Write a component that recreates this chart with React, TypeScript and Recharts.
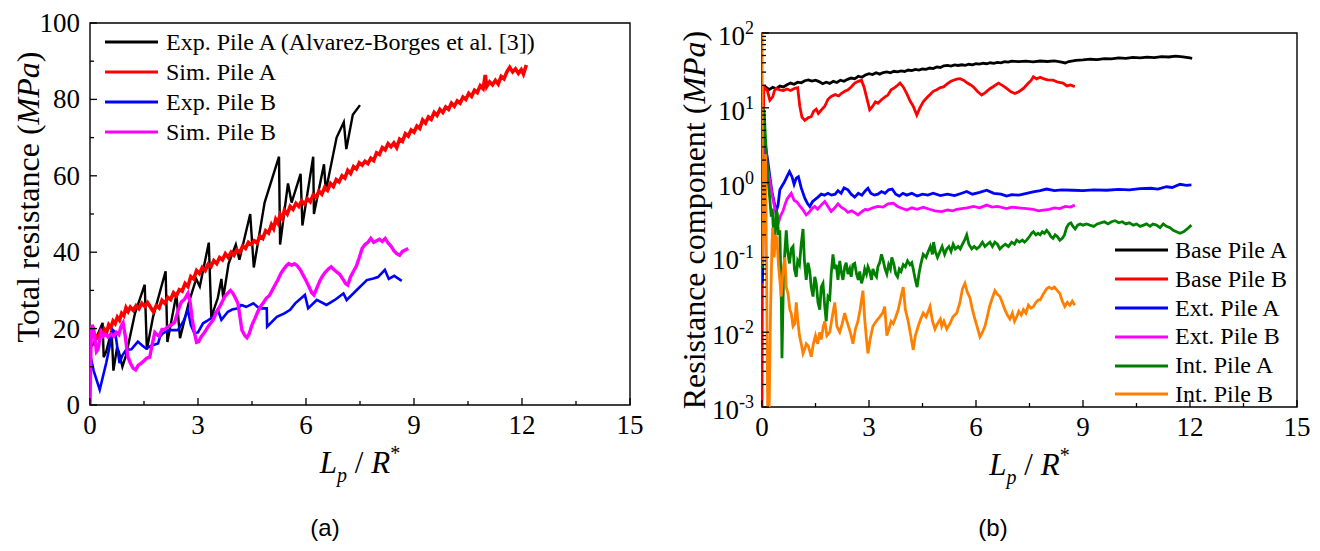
import React from 'react';
import { LineChart, Line, XAxis, YAxis, ReferenceArea, Legend } from 'recharts';

const SERIF = '"Liberation Serif", "Times New Roman", serif';
const SANS = '"Liberation Sans", Arial, sans-serif';

// ---- panel (a): total resistance ----
const A_X_TICKS = [0, 1.5, 3, 4.5, 6, 7.5, 9, 10.5, 12, 13.5, 15];
const A_X_LABELS = [0, 3, 6, 9, 12, 15];
const A_Y_TICKS = [0, 10, 20, 30, 40, 50, 60, 70, 80, 90, 100];
const A_Y_LABELS = [0, 20, 40, 60, 80, 100];
const A_NAMES = ['Exp. Pile A (Alvarez-Borges et al. [3])', 'Sim. Pile A', 'Exp. Pile B', 'Sim. Pile B'];
const A_COLORS = ['#000000', '#ff0000', '#0000ff', '#ff00ff'];

const expPileA: [number, number][] = [
  [0, 15], [0.1, 16], [0.35, 21.5], [0.38, 12.5], [0.45, 14], [0.6, 19.5], [0.65, 9], [0.75, 15], [0.8, 14],
  [0.9, 10], [1.0, 13], [1.25, 24], [1.52, 31.5], [1.58, 14.5], [1.75, 23], [2.1, 35], [2.15, 16.5],
  [2.4, 29], [2.5, 17.5], [2.75, 27], [2.85, 30], [2.95, 33], [3.05, 31], [3.3, 42.5], [3.37, 23],
  [3.55, 28], [3.65, 33], [3.7, 28], [3.85, 37], [4.05, 42], [4.15, 38], [4.45, 50], [4.55, 36],
  [4.85, 53], [5.25, 65], [5.28, 42], [5.5, 58], [5.6, 53], [5.85, 60.5], [5.9, 47], [6.2, 65],
  [6.22, 50], [6.5, 63], [6.55, 56], [6.85, 70], [7.05, 74], [7.12, 67], [7.3, 76], [7.5, 78.5],
];

const simPileA: [number, number][] = [
  [0, 14], [0.04, 20.5], [0.1, 19], [0.16, 18], [0.22, 17.5], [0.28, 19], [0.34, 18.2], [0.4, 19.8], [0.46, 19],
  [0.52, 21], [0.58, 20.2], [0.64, 22], [0.7, 21.3], [0.76, 23], [0.82, 22.2], [0.88, 24], [0.94, 23.4],
  [1.0, 25.5], [1.06, 24.5], [1.12, 25.6], [1.2, 24.8], [1.28, 26], [1.36, 25.2], [1.44, 26.6], [1.52, 25.8],
  [1.6, 26.8], [1.68, 25.6], [1.76, 24.4], [1.84, 26], [1.92, 25.4], [2.0, 27.4], [2.08, 26.6], [2.16, 28.2],
  [2.24, 27.6], [2.32, 29.4], [2.4, 28.6], [2.48, 30.2], [2.56, 29.8], [2.64, 31.8], [2.72, 31], [2.8, 33.6],
  [2.88, 33], [2.96, 35.2], [3.04, 34.4], [3.12, 36], [3.2, 35.2], [3.28, 36.8], [3.36, 36.2], [3.44, 37.8],
  [3.52, 37], [3.6, 38.6], [3.68, 38], [3.76, 39.6], [3.84, 38.6], [3.92, 40], [4.0, 39.2], [4.08, 40.6],
  [4.16, 40], [4.24, 41.6], [4.32, 41], [4.4, 42.6], [4.48, 42], [4.56, 43], [4.64, 42.4], [4.72, 44.2],
  [4.8, 43.6], [4.88, 45.6], [4.96, 45], [5.04, 47.2], [5.1, 46.2], [5.16, 48.6], [5.22, 47.6], [5.28, 49.8],
  [5.34, 48.8], [5.4, 51], [5.48, 50], [5.56, 52], [5.64, 51.2], [5.72, 52.8], [5.8, 52], [5.88, 53.4],
  [5.96, 52.6], [6.04, 54], [6.12, 53.2], [6.2, 55], [6.28, 54.4], [6.36, 56], [6.44, 55.2], [6.52, 57],
  [6.6, 56.2], [6.68, 58], [6.76, 57.2], [6.84, 59], [6.92, 58.4], [7.0, 60], [7.08, 59.4], [7.16, 61.4],
  [7.24, 60.6], [7.32, 62.4], [7.4, 61.8], [7.48, 63.4], [7.56, 62.8], [7.64, 63.8], [7.72, 63.2], [7.8, 64.6],
  [7.88, 64], [7.96, 66], [8.04, 65.6], [8.12, 67.4], [8.2, 66.8], [8.28, 68.4], [8.36, 67.6], [8.44, 68.6],
  [8.52, 67.4], [8.6, 69.6], [8.68, 69], [8.76, 71], [8.84, 70.4], [8.92, 72], [9.0, 71.4], [9.08, 73],
  [9.16, 72.4], [9.24, 74.6], [9.32, 73.8], [9.4, 75.4], [9.48, 74.8], [9.56, 76.6], [9.64, 75.8], [9.72, 77.4],
  [9.8, 76.6], [9.88, 78], [9.96, 77.4], [10.04, 79], [10.12, 78.2], [10.2, 79.6], [10.28, 79], [10.36, 80.6],
  [10.44, 80], [10.52, 81.6], [10.6, 80.8], [10.68, 82.4], [10.76, 81.8], [10.84, 83.6], [10.92, 82.8],
  [10.98, 86.4], [11.02, 83.4], [11.1, 84.6], [11.18, 83.8], [11.26, 85], [11.34, 84], [11.42, 86], [11.5, 85.4],
  [11.58, 87.2], [11.66, 88.4], [11.74, 87.2], [11.82, 88], [11.9, 86.8], [11.98, 87.8], [12.04, 86.6], [12.12, 89],
];

const expPileB: [number, number][] = [
  [0, 13.5], [0.1, 9], [0.27, 4], [0.45, 11], [0.64, 19.6], [0.7, 19], [0.82, 11], [0.9, 13], [1.0, 14.4],
  [1.15, 14.6], [1.33, 16.6], [1.45, 15.6], [1.56, 14.8], [1.7, 15.5], [1.89, 16.1], [1.95, 18], [2.03, 18.8],
  [2.21, 19.6], [2.44, 19.6], [2.6, 22], [2.72, 24.9], [2.8, 21], [2.9, 18.8], [3.0, 19], [3.14, 21.4],
  [3.25, 22], [3.42, 23.1], [3.55, 25], [3.65, 22.3], [3.83, 24.4], [3.95, 25], [4.11, 25.3], [4.2, 26.2],
  [4.34, 25.7], [4.54, 26.6], [4.7, 25.3], [4.91, 25.3], [4.92, 20.5], [5.19, 23.1], [5.4, 24], [5.56, 24.9],
  [5.7, 26.6], [5.97, 28.8], [6.06, 25.3], [6.3, 27.5], [6.57, 26.2], [6.8, 27.5], [7.04, 29.2], [7.13, 27.5],
  [7.41, 30.1], [7.69, 32.7], [7.87, 33.1], [8.0, 33.5], [8.19, 35.4], [8.3, 33], [8.45, 33.8], [8.66, 32.5],
];

const simPileB: [number, number][] = [
  [0, 0], [0.03, 17], [0.06, 21], [0.1, 20], [0.14, 17], [0.18, 14], [0.22, 14.5], [0.27, 17], [0.31, 19],
  [0.36, 18], [0.42, 18.5], [0.5, 17.8], [0.58, 18.6], [0.66, 18], [0.73, 19], [0.8, 18.4], [0.86, 20.5],
  [0.92, 21.5], [0.98, 18], [1.05, 12.7], [1.12, 11], [1.2, 9.6], [1.27, 9.2], [1.34, 10.4], [1.42, 10.9],
  [1.5, 11.6], [1.58, 12.3], [1.66, 12.5], [1.72, 15.5], [1.8, 19], [1.86, 18.4], [1.92, 18], [2.0, 19.8],
  [2.08, 19.8], [2.17, 20.5], [2.26, 21], [2.35, 21.6], [2.44, 24.5], [2.54, 27], [2.62, 27.6], [2.72, 29.2],
  [2.78, 27], [2.84, 22.5], [2.9, 19], [2.96, 16.4], [3.02, 16.6], [3.09, 17.9], [3.18, 19], [3.28, 20.5],
  [3.36, 21.5], [3.42, 22.3], [3.5, 24], [3.58, 25.4], [3.65, 26.6], [3.74, 28.4], [3.82, 29.2], [3.9, 30],
  [3.96, 29.4], [4.04, 28], [4.11, 26.6], [4.16, 23.5], [4.22, 19.6], [4.3, 18.2], [4.36, 17.6], [4.42, 18.6],
  [4.5, 21], [4.58, 22.6], [4.66, 24.4], [4.74, 25.8], [4.82, 26.8], [4.9, 28], [4.98, 28.6], [5.06, 30],
  [5.14, 31.4], [5.22, 32.8], [5.3, 34.4], [5.37, 35.4], [5.45, 36.4], [5.52, 37], [5.6, 36.6], [5.68, 37],
  [5.76, 36.4], [5.84, 35.4], [5.92, 34], [6.0, 32.6], [6.08, 31], [6.16, 29.4], [6.22, 28.8], [6.3, 30.6],
  [6.38, 32.4], [6.46, 33.8], [6.54, 34.8], [6.62, 35.6], [6.7, 36.2], [6.78, 35.4], [6.86, 34.8], [6.94, 34.2],
  [7.02, 33], [7.1, 31.8], [7.16, 31.4], [7.24, 33.6], [7.32, 35], [7.4, 36.4], [7.48, 38.6], [7.56, 41],
  [7.64, 42], [7.72, 42.6], [7.8, 43.6], [7.88, 42.6], [7.96, 43], [8.04, 43.4], [8.12, 42.8], [8.2, 43.6],
  [8.28, 42.4], [8.36, 41.6], [8.44, 40.4], [8.52, 39.6], [8.6, 39.2], [8.68, 40.2], [8.76, 40.6], [8.84, 41],
];

// ---- panel (b): resistance components (log scale) ----
const B_X_TICKS = A_X_TICKS;
const B_X_LABELS = A_X_LABELS;
const B_Y_LABELS = [0.001, 0.01, 0.1, 1, 10, 100];
const B_MINOR_STEPS = [1, 2, 3, 4, 5, 6, 7, 8, 9];
const B_Y_TICKS = B_Y_LABELS.flatMap((d) => (d === 100 ? [d] : B_MINOR_STEPS.map((m) => +(d * m).toPrecision(3))));
const B_NAMES = ['Base Pile A', 'Base Pile B', 'Ext. Pile A', 'Ext. Pile B', 'Int. Pile A', 'Int. Pile B'];
const B_COLORS = ['#000000', '#ff0000', '#0000ff', '#ff00ff', '#008000', '#ff8000'];

const basePileA: [number, number][] = [
  [0.02, 16], [0.1, 19], [0.2, 17.5], [0.3, 18.8], [0.4, 18], [0.5, 19.5], [0.6, 19], [0.7, 20.3], [0.8, 21.4],
  [0.9, 20.6], [1.0, 22], [1.1, 21.6], [1.2, 23], [1.3, 23.6], [1.4, 22.8], [1.5, 23.4], [1.6, 22.4], [1.7, 21],
  [1.8, 22], [1.9, 21.2], [2.0, 22.6], [2.1, 21.8], [2.2, 23.4], [2.3, 22.6], [2.4, 24], [2.5, 25], [2.6, 24.4],
  [2.7, 26.4], [2.8, 25.6], [2.9, 27.4], [3.0, 28.6], [3.1, 27.8], [3.2, 29.4], [3.3, 28.2], [3.4, 29.6],
  [3.5, 30.2], [3.6, 29.4], [3.7, 30.8], [3.8, 30.2], [3.9, 31.2], [4.0, 30.6], [4.1, 32], [4.2, 31.4],
  [4.3, 32.6], [4.4, 32], [4.5, 33], [4.6, 32.6], [4.7, 34], [4.8, 33.4], [4.9, 35.2], [5.0, 34.6], [5.1, 36.4],
  [5.2, 37], [5.3, 36.2], [5.4, 37.4], [5.5, 36.8], [5.6, 37.6], [5.7, 37], [5.8, 38.2], [5.9, 37.6], [6.0, 39],
  [6.1, 38.4], [6.2, 39.4], [6.3, 38.8], [6.4, 40], [6.5, 39.2], [6.6, 40.4], [6.7, 39.8], [6.8, 41.4],
  [6.9, 40.8], [7.0, 42], [7.2, 41.4], [7.4, 42], [7.6, 41.2], [7.8, 42.2], [8.0, 41.6], [8.2, 42.4], [8.4, 40.8],
  [8.5, 39.8], [8.6, 41.6], [8.8, 43], [9.0, 43.6], [9.2, 44.6], [9.4, 44], [9.6, 45.4], [9.8, 45], [10.0, 46.4],
  [10.2, 45.8], [10.4, 47.2], [10.6, 46.4], [10.8, 47.6], [11.0, 47], [11.2, 48.4], [11.4, 47.8], [11.6, 49],
  [11.8, 48], [12.0, 46.4], [12.06, 45.6],
];

const basePileB: [number, number][] = [
  [0, 0.001], [0.01, 0.06], [0.05, 19], [0.1, 18], [0.15, 17], [0.22, 12.6], [0.3, 14], [0.35, 17], [0.4, 18.2],
  [0.5, 17.4], [0.6, 17], [0.7, 17.8], [0.8, 17], [0.92, 18.2], [1.0, 18.6], [1.06, 10.5], [1.12, 7.5], [1.2, 6.8],
  [1.3, 7.4], [1.38, 7.6], [1.45, 9], [1.52, 9.6], [1.58, 8.4], [1.65, 9.2], [1.76, 10.5], [1.85, 13], [1.94, 14.2],
  [2.05, 15], [2.15, 14.4], [2.22, 15.5], [2.32, 16.6], [2.41, 17.4], [2.5, 19], [2.6, 21.4], [2.7, 22.6],
  [2.79, 23.4], [2.86, 19], [2.93, 14], [3.02, 9.4], [3.1, 10.4], [3.18, 12], [3.25, 11.5], [3.35, 12.8],
  [3.45, 14], [3.53, 14.8], [3.62, 17.4], [3.72, 18.6], [3.8, 20], [3.87, 21.4], [3.96, 19], [4.06, 15.5],
  [4.15, 12.4], [4.24, 10.5], [4.34, 8], [4.42, 9.8], [4.52, 12], [4.62, 13.6], [4.72, 15.2], [4.8, 16.6],
  [4.9, 17.4], [5.0, 18.6], [5.09, 19], [5.2, 21], [5.3, 22.6], [5.37, 23.4], [5.46, 24.2], [5.55, 24.5],
  [5.65, 23.4], [5.75, 21.6], [5.85, 20.2], [5.93, 19], [6.05, 16.4], [6.16, 14.8], [6.26, 16], [6.39, 18],
  [6.5, 19.4], [6.63, 21.4], [6.75, 19.8], [6.86, 18.2], [6.98, 16.4], [7.09, 15.5], [7.2, 16.4], [7.33, 18.2],
  [7.45, 21], [7.55, 23.4], [7.61, 26], [7.7, 24.4], [7.8, 25.6], [7.89, 24.5], [8.0, 23.6], [8.16, 23.4],
  [8.3, 22], [8.44, 21.4], [8.55, 19.6], [8.65, 20.2], [8.77, 19.2],
];

const extPileA: [number, number][] = [
  [0, 0.045], [0.02, 0.06], [0.04, 3.5], [0.1, 3], [0.16, 2], [0.22, 1.2], [0.28, 0.75], [0.34, 0.55], [0.4, 0.42],
  [0.45, 0.5], [0.5, 0.8], [0.56, 0.9], [0.62, 1.0], [0.7, 1.2], [0.77, 1.4], [0.84, 1.2], [0.9, 0.95], [0.96, 1.15],
  [1.02, 1.2], [1.1, 0.85], [1.2, 0.62], [1.28, 0.52], [1.34, 0.48], [1.42, 0.56], [1.5, 0.6], [1.57, 0.64],
  [1.66, 0.7], [1.75, 0.68], [1.85, 0.72], [1.95, 0.68], [2.05, 0.7], [2.13, 0.78], [2.22, 0.72], [2.3, 0.85],
  [2.41, 0.8], [2.5, 0.7], [2.6, 0.64], [2.7, 0.72], [2.8, 0.68], [2.9, 0.78], [2.97, 0.84], [3.05, 0.72],
  [3.15, 0.68], [3.25, 0.7], [3.35, 0.76], [3.45, 0.72], [3.55, 0.8], [3.65, 0.82], [3.75, 0.7], [3.85, 0.66],
  [3.95, 0.72], [4.06, 0.68], [4.2, 0.72], [4.35, 0.66], [4.5, 0.7], [4.65, 0.68], [4.8, 0.72], [5.0, 0.67],
  [5.2, 0.7], [5.4, 0.67], [5.6, 0.72], [5.74, 0.76], [5.9, 0.7], [6.1, 0.74], [6.3, 0.79], [6.5, 0.72],
  [6.7, 0.7], [6.86, 0.66], [7.0, 0.69], [7.2, 0.68], [7.42, 0.72], [7.6, 0.75], [7.8, 0.78], [7.98, 0.82],
  [8.2, 0.78], [8.4, 0.8], [8.72, 0.79], [9.0, 0.78], [9.3, 0.8], [9.66, 0.79], [10.0, 0.81], [10.3, 0.8],
  [10.6, 0.83], [10.9, 0.84], [11.1, 0.82], [11.34, 0.88], [11.5, 0.86], [11.72, 0.95], [11.9, 0.92], [12.04, 0.93],
];

const extPileB: [number, number][] = [
  [0.02, 10], [0.06, 5], [0.12, 2], [0.2, 1.2], [0.28, 0.7], [0.36, 0.45], [0.42, 0.32], [0.46, 0.29], [0.52, 0.36],
  [0.59, 0.42], [0.64, 0.5], [0.7, 0.6], [0.76, 0.66], [0.82, 0.72], [0.9, 0.58], [0.98, 0.55], [1.06, 0.49],
  [1.14, 0.44], [1.24, 0.37], [1.32, 0.4], [1.4, 0.45], [1.48, 0.48], [1.56, 0.44], [1.66, 0.5], [1.76, 0.56],
  [1.85, 0.48], [1.94, 0.41], [2.04, 0.46], [2.13, 0.52], [2.22, 0.47], [2.32, 0.44], [2.41, 0.4], [2.52, 0.42],
  [2.62, 0.39], [2.69, 0.37], [2.8, 0.41], [2.9, 0.44], [2.97, 0.43], [3.1, 0.46], [3.25, 0.48], [3.4, 0.47],
  [3.53, 0.52], [3.68, 0.53], [3.8, 0.48], [3.94, 0.45], [4.06, 0.43], [4.2, 0.46], [4.35, 0.44], [4.52, 0.47],
  [4.7, 0.44], [4.85, 0.42], [5.04, 0.41], [5.2, 0.43], [5.35, 0.42], [5.46, 0.44], [5.6, 0.45], [5.75, 0.46],
  [5.93, 0.48], [6.1, 0.46], [6.3, 0.5], [6.45, 0.47], [6.6, 0.48], [6.86, 0.45], [7.0, 0.47], [7.2, 0.46],
  [7.42, 0.45], [7.6, 0.44], [7.75, 0.42], [7.89, 0.43], [8.05, 0.44], [8.2, 0.46], [8.35, 0.45], [8.5, 0.48],
  [8.65, 0.47], [8.77, 0.5],
];

const intPileA: [number, number][] = [
  [0, 0.07], [0.01, 0.09], [0.03, 10], [0.06, 9], [0.1, 3.7], [0.14, 2], [0.17, 1.1], [0.22, 0.6], [0.26, 0.35],
  [0.29, 0.45], [0.31, 0.28], [0.34, 0.2], [0.36, 0.15], [0.38, 0.3], [0.4, 0.43], [0.43, 0.38], [0.46, 0.2],
  [0.5, 0.23], [0.52, 0.08], [0.54, 0.03], [0.56, 0.0045], [0.58, 0.015], [0.6, 0.045], [0.64, 0.12], [0.68, 0.23],
  [0.72, 0.12], [0.77, 0.083], [0.82, 0.13], [0.87, 0.14], [0.91, 0.07], [0.96, 0.055], [1.0, 0.09], [1.05, 0.08],
  [1.1, 0.15], [1.15, 0.24], [1.19, 0.09], [1.24, 0.05], [1.29, 0.085], [1.34, 0.065], [1.38, 0.04], [1.43, 0.03],
  [1.48, 0.055], [1.52, 0.045], [1.57, 0.025], [1.62, 0.02], [1.66, 0.04], [1.71, 0.045], [1.76, 0.022],
  [1.8, 0.014], [1.85, 0.03], [1.9, 0.028], [1.94, 0.06], [1.99, 0.11], [2.04, 0.07], [2.08, 0.08], [2.13, 0.05],
  [2.18, 0.09], [2.22, 0.065], [2.27, 0.05], [2.32, 0.075], [2.36, 0.085], [2.41, 0.06], [2.46, 0.07], [2.5, 0.055],
  [2.55, 0.08], [2.6, 0.083], [2.65, 0.06], [2.7, 0.05], [2.74, 0.065], [2.79, 0.045], [2.84, 0.055], [2.88, 0.07],
  [2.93, 0.06], [2.97, 0.075], [3.02, 0.065], [3.07, 0.05], [3.11, 0.07], [3.16, 0.06], [3.21, 0.055],
  [3.25, 0.075], [3.3, 0.085], [3.35, 0.11], [3.4, 0.09], [3.45, 0.07], [3.5, 0.06], [3.55, 0.08], [3.6, 0.07],
  [3.64, 0.1], [3.7, 0.08], [3.75, 0.06], [3.8, 0.055], [3.85, 0.07], [3.9, 0.065], [3.96, 0.08], [4.02, 0.075],
  [4.08, 0.09], [4.15, 0.08], [4.2, 0.085], [4.24, 0.07], [4.3, 0.05], [4.35, 0.04], [4.4, 0.06], [4.45, 0.08],
  [4.52, 0.11], [4.6, 0.1], [4.66, 0.12], [4.72, 0.14], [4.78, 0.11], [4.81, 0.16], [4.86, 0.12], [4.92, 0.1],
  [4.99, 0.12], [5.05, 0.14], [5.12, 0.11], [5.18, 0.13], [5.24, 0.14], [5.3, 0.12], [5.36, 0.15], [5.42, 0.13],
  [5.5, 0.14], [5.56, 0.13], [5.62, 0.15], [5.68, 0.17], [5.74, 0.2], [5.8, 0.15], [5.88, 0.13], [5.95, 0.14],
  [6.02, 0.13], [6.1, 0.14], [6.18, 0.16], [6.25, 0.14], [6.32, 0.15], [6.39, 0.16], [6.46, 0.14], [6.53, 0.16],
  [6.6, 0.15], [6.67, 0.13], [6.74, 0.14], [6.82, 0.15], [6.91, 0.14], [7.0, 0.16], [7.08, 0.15], [7.14, 0.17],
  [7.22, 0.16], [7.3, 0.17], [7.36, 0.16], [7.42, 0.17], [7.5, 0.19], [7.56, 0.21], [7.61, 0.22], [7.68, 0.2],
  [7.74, 0.21], [7.8, 0.2], [7.86, 0.22], [7.92, 0.21], [7.98, 0.23], [8.05, 0.21], [8.1, 0.19], [8.16, 0.18],
  [8.22, 0.2], [8.28, 0.19], [8.35, 0.17], [8.42, 0.18], [8.48, 0.2], [8.54, 0.25], [8.6, 0.28], [8.66, 0.29],
  [8.72, 0.26], [8.78, 0.24], [8.85, 0.27], [8.92, 0.28], [9.0, 0.27], [9.1, 0.28], [9.19, 0.27], [9.3, 0.26],
  [9.4, 0.28], [9.5, 0.29], [9.6, 0.3], [9.7, 0.28], [9.8, 0.3], [9.9, 0.31], [10.0, 0.29], [10.1, 0.3],
  [10.2, 0.28], [10.3, 0.29], [10.41, 0.27], [10.5, 0.28], [10.6, 0.26], [10.7, 0.27], [10.78, 0.28],
  [10.88, 0.26], [10.96, 0.28], [11.06, 0.27], [11.16, 0.25], [11.25, 0.28], [11.34, 0.26], [11.44, 0.25],
  [11.53, 0.23], [11.62, 0.22], [11.72, 0.21], [11.82, 0.22], [11.92, 0.24], [12.04, 0.27],
];

const intPileB: [number, number][] = [
  [0, 100], [0.02, 0.08], [0.06, 0.5], [0.1, 2.4], [0.13, 0.05], [0.16, 0.0009], [0.2, 0.0009], [0.24, 0.02],
  [0.28, 0.15], [0.3, 0.25], [0.34, 0.1], [0.38, 0.2], [0.42, 0.18], [0.46, 0.08], [0.5, 0.05], [0.54, 0.03],
  [0.58, 0.06], [0.64, 0.1], [0.68, 0.04], [0.73, 0.033], [0.78, 0.02], [0.82, 0.018], [0.87, 0.012], [0.92, 0.013],
  [0.96, 0.025], [1.0, 0.015], [1.05, 0.009], [1.1, 0.007], [1.15, 0.0052], [1.2, 0.006], [1.24, 0.007],
  [1.3, 0.0065], [1.38, 0.0047], [1.44, 0.007], [1.5, 0.009], [1.56, 0.007], [1.62, 0.01], [1.66, 0.008],
  [1.72, 0.012], [1.76, 0.014], [1.82, 0.009], [1.9, 0.01], [1.96, 0.015], [2.04, 0.025], [2.1, 0.012], [2.18, 0.01],
  [2.25, 0.013], [2.32, 0.018], [2.38, 0.014], [2.45, 0.011], [2.5, 0.009], [2.55, 0.007], [2.62, 0.011],
  [2.69, 0.014], [2.75, 0.02], [2.83, 0.036], [2.88, 0.015], [2.93, 0.008], [2.97, 0.0052], [3.03, 0.008],
  [3.11, 0.012], [3.2, 0.014], [3.3, 0.016], [3.38, 0.018], [3.44, 0.022], [3.5, 0.009], [3.56, 0.011],
  [3.62, 0.014], [3.68, 0.013], [3.75, 0.016], [3.82, 0.02], [3.9, 0.03], [3.96, 0.04], [4.02, 0.02], [4.1, 0.014],
  [4.17, 0.009], [4.24, 0.0058], [4.3, 0.009], [4.38, 0.012], [4.45, 0.015], [4.52, 0.018], [4.6, 0.016],
  [4.71, 0.022], [4.78, 0.014], [4.85, 0.011], [4.92, 0.013], [5.0, 0.015], [5.04, 0.012], [5.1, 0.014],
  [5.18, 0.011], [5.27, 0.013], [5.35, 0.016], [5.46, 0.018], [5.55, 0.025], [5.62, 0.038], [5.69, 0.045],
  [5.75, 0.035], [5.83, 0.029], [5.9, 0.02], [5.97, 0.015], [6.05, 0.011], [6.11, 0.0087], [6.18, 0.01],
  [6.25, 0.012], [6.3, 0.015], [6.38, 0.022], [6.45, 0.028], [6.53, 0.036], [6.6, 0.032], [6.67, 0.03],
  [6.75, 0.024], [6.81, 0.02], [6.88, 0.017], [6.95, 0.015], [7.02, 0.018], [7.08, 0.014], [7.14, 0.016],
  [7.2, 0.019], [7.27, 0.017], [7.33, 0.02], [7.4, 0.018], [7.47, 0.023], [7.54, 0.021], [7.61, 0.022],
  [7.68, 0.025], [7.75, 0.027], [7.8, 0.027], [7.88, 0.032], [7.98, 0.038], [8.05, 0.04], [8.12, 0.038],
  [8.2, 0.04], [8.28, 0.036], [8.35, 0.033], [8.42, 0.026], [8.49, 0.022], [8.56, 0.025], [8.63, 0.023],
  [8.7, 0.026], [8.77, 0.023],
];

const A_SERIES = [expPileA, simPileA, expPileB, simPileB];
const A_WIDTHS = [2.4, 3.6, 2.6, 3.4];
const B_SERIES = [basePileA, basePileB, extPileA, extPileB, intPileA, intPileB];

const toPts = (arr: [number, number][]) => arr.map(([x, y]) => ({ x, y }));

// inward tick marks, labels only on the major values
const XTick = (props: any) => {
  const { x, y, payload, labels, pad } = props;
  const v = payload.value;
  const major = labels.includes(v);
  const ay = y - pad;
  return (
    <g>
      <line x1={x} x2={x} y1={ay} y2={ay - (major ? 7 : 4)} stroke="#000" strokeWidth={1.3} />
      {major && (
        <text x={x} y={y} textAnchor="middle" fontFamily={SERIF} fontSize={27} fill="#000">
          {v}
        </text>
      )}
    </g>
  );
};

const YTick = (props: any) => {
  const { x, y, payload, labels, pad, log } = props;
  const v = payload.value;
  const major = labels.includes(v);
  const ax = x + pad;
  return (
    <g>
      <line x1={ax} x2={ax + (major ? 7 : 4)} y1={y} y2={y} stroke="#000" strokeWidth={1.3} />
      {major &&
        (log ? (
          <text x={x} y={y + 12} textAnchor="end" fontFamily={SERIF} fontSize={27} fill="#000">
            10
            <tspan dy={-11} fontSize={18}>
              {Math.round(Math.log10(v))}
            </tspan>
          </text>
        ) : (
          <text x={x} y={y + 9} textAnchor="end" fontFamily={SERIF} fontSize={27} fill="#000">
            {v}
          </text>
        ))}
    </g>
  );
};

const XTitle = ({ viewBox }: any) => {
  if (!viewBox) return null;
  const cx = viewBox.x + viewBox.width / 2;
  const by = viewBox.y + 68;
  return (
    <text x={cx} y={by} textAnchor="middle" fontFamily={SERIF} fontSize={31} fill="#000">
      <tspan fontStyle="italic">L</tspan>
      <tspan fontStyle="italic" fontSize={20} dy={9}>p</tspan>
      <tspan dy={-9}> / </tspan>
      <tspan fontStyle="italic">R</tspan>
      <tspan fontSize={20} dy={-13}>*</tspan>
    </text>
  );
};

const YTitle = ({ viewBox, text, dx, dy }: any) => {
  if (!viewBox) return null;
  const cx = viewBox.x + dx;
  const cy = viewBox.y + viewBox.height / 2 + dy;
  return (
    <text
      x={cx}
      y={cy}
      transform={`rotate(-90 ${cx} ${cy})`}
      textAnchor="middle"
      dominantBaseline="central"
      fontFamily={SERIF}
      fontSize={32}
      fill="#000"
    >
      {text} (<tspan fontStyle="italic">MPa</tspan>)
    </text>
  );
};

const LegendRows = ({ names, colors, rowH, gap }: any) => (
  <div>
    {names.map((n: string, i: number) => (
      <div key={n} style={{ display: 'flex', alignItems: 'center', height: rowH, whiteSpace: 'nowrap' }}>
        <svg width={53} height={6} style={{ display: 'block' }}>
          <line x1={0} x2={53} y1={3} y2={3} stroke={colors[i]} strokeWidth={3.2} />
        </svg>
        <span style={{ marginLeft: gap, fontFamily: SERIF, fontSize: 24, lineHeight: `${rowH}px`, color: '#000' }}>
          {n}
        </span>
      </div>
    ))}
  </div>
);

const Caption = ({ text, x }: { text: string; x: number }) => (
  <div
    style={{
      position: 'absolute',
      left: x,
      top: 516,
      transform: 'translateX(-50%)',
      fontFamily: SANS,
      fontSize: 24,
      lineHeight: '24px',
      color: '#000',
    }}
  >
    {text}
  </div>
);

const App = () => {
  return (
    <div style={{ position: 'absolute', left: 0, top: 0, width: 1320, height: 551, background: '#fff', overflow: 'hidden' }}>
      <div style={{ position: 'absolute', left: 0, top: 0 }}>
        <LineChart width={660} height={551} margin={{ top: 23, right: 30, bottom: 106, left: 30 }}>
          <XAxis
            type="number"
            dataKey="x"
            domain={[0, 15]}
            ticks={A_X_TICKS}
            interval={0}
            allowDataOverflow
            axisLine={false}
            tickLine={false}
            tickSize={0}
            tickMargin={29}
            height={40}
            tick={(p: any) => <XTick {...p} labels={A_X_LABELS} pad={29} />}
            label={{ content: (p: any) => <XTitle viewBox={p.viewBox} /> }}
          />
          <YAxis
            type="number"
            domain={[0, 100]}
            ticks={A_Y_TICKS}
            interval={0}
            allowDataOverflow
            axisLine={false}
            tickLine={false}
            tickSize={0}
            tickMargin={10}
            width={60}
            tick={(p: any) => <YTick {...p} labels={A_Y_LABELS} pad={10} />}
            label={{ content: (p: any) => <YTitle viewBox={p.viewBox} text="Total resistance" dx={-2} dy={-17} /> }}
          />
          <ReferenceArea x1={0} x2={15} y1={0} y2={100} fill="none" stroke="#000" strokeWidth={1.4} />
          {A_SERIES.map((s, i) => (
            <Line
              key={A_NAMES[i]}
              data={toPts(s)}
              dataKey="y"
              name={A_NAMES[i]}
              stroke={A_COLORS[i]}
              strokeWidth={A_WIDTHS[i]}
              dot={false}
              activeDot={false}
              type="linear"
              isAnimationActive={false}
            />
          ))}
          <Legend
            layout="vertical"
            align="center"
            verticalAlign="middle"
            wrapperStyle={{ left: 105, top: 27, width: 460 }}
            content={() => <LegendRows names={A_NAMES} colors={A_COLORS} rowH={30} gap={8} />}
          />
        </LineChart>
      </div>

      <div style={{ position: 'absolute', left: 660, top: 0 }}>
        <LineChart width={660} height={551} margin={{ top: 33, right: 23, bottom: 104, left: 32 }}>
          <XAxis
            type="number"
            dataKey="x"
            domain={[0, 15]}
            ticks={B_X_TICKS}
            interval={0}
            allowDataOverflow
            axisLine={false}
            tickLine={false}
            tickSize={0}
            tickMargin={29}
            height={40}
            tick={(p: any) => <XTick {...p} labels={B_X_LABELS} pad={29} />}
            label={{ content: (p: any) => <XTitle viewBox={p.viewBox} /> }}
          />
          <YAxis
            type="number"
            scale="log"
            domain={[0.001, 100]}
            ticks={B_Y_TICKS}
            interval={0}
            allowDataOverflow
            axisLine={false}
            tickLine={false}
            tickSize={0}
            tickMargin={8}
            width={70}
            tick={(p: any) => <YTick {...p} labels={B_Y_LABELS} pad={8} log />}
            label={{ content: (p: any) => <YTitle viewBox={p.viewBox} text="Resistance component" dx={2} dy={0} /> }}
          />
          <ReferenceArea x1={0} x2={15} y1={0.001} y2={100} fill="none" stroke="#000" strokeWidth={1.4} />
          {B_SERIES.map((s, i) => (
            <Line
              key={B_NAMES[i]}
              data={toPts(s)}
              dataKey="y"
              name={B_NAMES[i]}
              stroke={B_COLORS[i]}
              strokeWidth={2.8}
              dot={false}
              activeDot={false}
              type="linear"
              isAnimationActive={false}
            />
          ))}
          <Legend
            layout="vertical"
            align="center"
            verticalAlign="middle"
            wrapperStyle={{ left: 455, top: 236, width: 200 }}
            content={() => <LegendRows names={B_NAMES} colors={B_COLORS} rowH={28.8} gap={7} />}
          />
        </LineChart>
      </div>

      <Caption text="(a)" x={325} />
      <Caption text="(b)" x={993} />
    </div>
  );
};

export default App;
